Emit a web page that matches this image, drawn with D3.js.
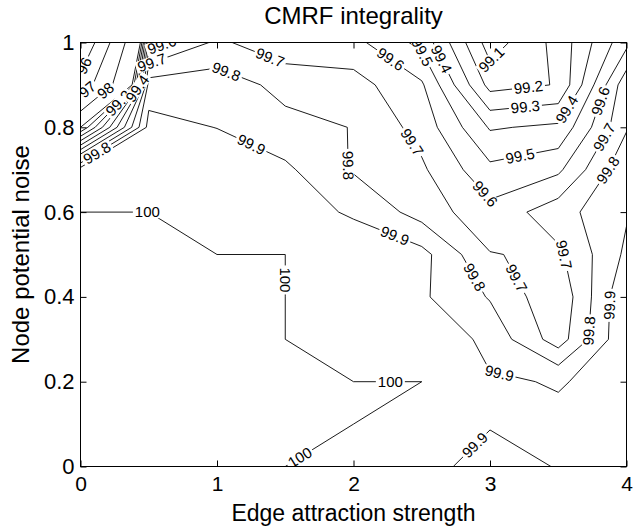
<!DOCTYPE html>
<html>
<head>
<meta charset="utf-8">
<script src="https://cdn.jsdelivr.net/npm/d3@7"></script>
<style>
  body { margin: 0; background: #fff; }
  text { font-family: "Liberation Sans", Arial, Helvetica, sans-serif; fill: #000; }
</style>
</head>
<body>
<div id="container"></div>
<script>
// grid of the experiment: edge attraction strength x node potential noise
const edgeStrength = [0, 0.5, 1, 1.5, 2, 2.5, 3, 3.5, 4];
const nodeNoise = [0, 0.1, 0.2, 0.3, 0.4, 0.5, 0.6, 0.7, 0.8, 0.9, 1];

// integrality (%) for each noise row, one value per edge strength
const noise00 = [100, 100, 100, 100, 99.97, 99.943, 99.85, 99.906, 99.93];
const noise01 = [100, 100, 100, 100, 100, 99.96, 99.908, 99.915, 99.93];
const noise02 = [100, 100, 100, 100, 100, 100, 99.91, 99.895, 99.926];
const noise03 = [100, 100, 100, 100, 99.98, 99.99, 99.87, 99.65, 99.99];
const noise04 = [100, 100, 100, 100, 99.96, 99.915, 99.792, 99.62, 99.99];
const noise05 = [100, 100, 100, 100, 99.95, 99.933, 99.705, 99.68, 99.92];
const noise06 = [100, 100, 99.97, 99.936, 99.89, 99.758, 99.632, 99.758, 99.89];
const noise07 = [99.95, 99.96, 99.97, 99.92, 99.79, 99.716, 99.525, 99.58, 99.88];
const noise08 = [99.0, 99.933, 99.898, 99.83, 99.797, 99.662, 99.39, 99.42, 99.79];
const noise09 = [96.37, 99.85, 99.853, 99.77, 99.74, 99.614, 99.165, 99.205, 99.77];
const noise10 = [95.05, 99.55, 99.72, 99.63, 99.63, 99.47, 99.05, 99.233, 99.57];
const integrality = [noise00, noise01, noise02, noise03, noise04, noise05,
                     noise06, noise07, noise08, noise09, noise10];

const levels = [95, 96, 97, 98, 99, 99.1, 99.2, 99.3, 99.4, 99.5, 99.6, 99.7, 99.8, 99.9, 100];
const xTicks = [0, 1, 2, 3, 4];
const yTicks = [0, 0.2, 0.4, 0.6, 0.8, 1];

// inline contour labels: level, edge strength, noise (rough spot on the line)
const labelLevel = [96, 97, 98, 99.8, 99.6, 99.7, 99.8, 99.7, 99.9, 99.8, 99.7, 99.6, 99.5, 99.4,
                    99.1, 99.2, 99.3, 99.4, 99.5, 99.6, 99.7, 99.8, 99.6, 99.7, 99.7, 99.8,
                    99.9, 99.9, 99.8, 99.9, 99.9, 100, 100, 100, 100, 99.2, 99.4];
const labelX = [0.06, 0.05, 0.2, 0.12, 0.6, 0.52, 1.07, 1.38, 1.26, 1.94, 2.43, 2.27, 2.49, 2.64,
                3.03, 3.28, 3.26, 3.55, 3.24, 3.79, 3.82, 3.86, 2.93, 3.55, 3.17, 2.85,
                2.29, 3.09, 3.72, 3.89, 2.89, 0.49, 1.5, 2.27, 1.61, 0.3, 0.38];
const labelY = [0.94, 0.89, 0.88, 0.74, 0.99, 0.955, 0.933, 0.957, 0.765, 0.71, 0.765, 0.96, 0.975, 0.96,
                0.953, 0.9, 0.845, 0.845, 0.7, 0.864, 0.78, 0.7, 0.633, 0.5, 0.44, 0.44,
                0.534, 0.25, 0.32, 0.38, 0.05, 0.593, 0.44, 0.2, 0.02, 0.85, 0.9];

const width = 640, height = 529;
const pLeft = 80.5, pRight = 626.5, pTop = 42.5, pBottom = 466.5;

const svg = d3.select("#container").append("svg")
  .attr("width", width)
  .attr("height", height);

const x = d3.scaleLinear().domain([0, 4]).range([pLeft, pRight]);
const y = d3.scaleLinear().domain([0, 1]).range([pBottom, pTop]);

// pad the grid by repeating its edges, so the rings d3 closes lie outside the axes
const nx = edgeStrength.length, ny = nodeNoise.length;
const W = nx + 2, H = ny + 2;
const values = new Array(W * H);
for (let j = 0; j < H; j++) {
  for (let i = 0; i < W; i++) {
    const jj = Math.min(ny - 1, Math.max(0, j - 1));
    const ii = Math.min(nx - 1, Math.max(0, i - 1));
    values[j * W + i] = integrality[jj][ii];
  }
}
const contours = d3.contours().size([W, H]).thresholds(levels)(values);

const ix = d3.scaleLinear().domain([0, nx - 1]).range([edgeStrength[0], edgeStrength[nx - 1]]);
const iy = d3.scaleLinear().domain([0, ny - 1]).range([nodeNoise[0], nodeNoise[ny - 1]]);
const toPx = (c) => [x(ix(c[0] - 1.5)), y(iy(c[1] - 1.5))];

svg.append("clipPath").attr("id", "plotclip")
  .append("rect")
  .attr("x", pLeft).attr("y", pTop)
  .attr("width", pRight - pLeft).attr("height", pBottom - pTop);

const rings = [];
contours.forEach(c => {
  c.coordinates.forEach(poly => poly.forEach(ring => {
    rings.push({ level: c.value, pts: ring.map(toPx) });
  }));
});

const lineGen = d3.line();
const plot = svg.append("g").attr("clip-path", "url(#plotclip)");
plot.selectAll("path.contour")
  .data(rings)
  .enter()
  .append("path")
  .attr("class", "contour")
  .attr("d", d => lineGen(d.pts))
  .attr("fill", "none")
  .attr("stroke", "#000")
  .attr("stroke-width", 0.9)
  .attr("stroke-linejoin", "round");

// contour labels, placed on the nearest piece of their line
const inside = (p) => p[0] >= pLeft && p[0] <= pRight && p[1] >= pTop && p[1] <= pBottom;
const labelG = plot.append("g");
labelLevel.forEach((lv, k) => {
  const ax = x(labelX[k]), ay = y(labelY[k]);
  let best = null;
  rings.filter(r => Math.abs(r.level - lv) < 1e-6).forEach(r => {
    for (let s = 0; s < r.pts.length - 1; s++) {
      const a = r.pts[s], b = r.pts[s + 1];
      if (!inside(a) || !inside(b)) continue;
      const dx = b[0] - a[0], dy = b[1] - a[1];
      const len2 = dx * dx + dy * dy;
      if (len2 < 1e-6) continue;
      let t = ((ax - a[0]) * dx + (ay - a[1]) * dy) / len2;
      t = Math.max(0, Math.min(1, t));
      const px = a[0] + t * dx, py = a[1] + t * dy;
      const d2 = (px - ax) * (px - ax) + (py - ay) * (py - ay);
      if (!best || d2 < best.d2) best = { d2, px, py, ang: Math.atan2(dy, dx) * 180 / Math.PI };
    }
  });
  if (!best) return;
  let ang = best.ang;
  if (ang > 90) ang -= 180;
  if (ang <= -90) ang += 180;
  const g = labelG.append("g")
    .attr("transform", `translate(${best.px},${best.py}) rotate(${ang})`);
  const rect = g.append("rect").attr("fill", "#fff");
  const t = g.append("text")
    .attr("text-anchor", "middle")
    .attr("dy", "0.35em")
    .style("font-size", "15px")
    .text(d3.format("")(lv));
  const w = t.node().getComputedTextLength() + 4;
  rect.attr("x", -w / 2).attr("y", -6).attr("width", w).attr("height", 12);
});

// axes box with inward ticks on all sides
svg.append("g")
  .attr("transform", `translate(0,${pBottom})`)
  .call(d3.axisBottom(x).tickValues(xTicks).tickFormat(d3.format("")).tickSizeInner(-6).tickSizeOuter(0).tickPadding(10))
  .call(g => g.select(".domain").remove())
  .selectAll("text").style("font-size", "21px");

svg.append("g")
  .attr("transform", `translate(0,${pTop})`)
  .call(d3.axisTop(x).tickValues(xTicks).tickFormat("").tickSizeInner(-6).tickSizeOuter(0))
  .call(g => g.select(".domain").remove());

svg.append("g")
  .attr("transform", `translate(${pLeft},0)`)
  .call(d3.axisLeft(y).tickValues(yTicks).tickFormat(d3.format("")).tickSizeInner(-6).tickSizeOuter(0).tickPadding(6))
  .call(g => g.select(".domain").remove())
  .selectAll("text").style("font-size", "22px");

svg.append("g")
  .attr("transform", `translate(${pRight},0)`)
  .call(d3.axisRight(y).tickValues(yTicks).tickFormat("").tickSizeInner(-6).tickSizeOuter(0))
  .call(g => g.select(".domain").remove());

svg.append("rect")
  .attr("x", pLeft).attr("y", pTop)
  .attr("width", pRight - pLeft).attr("height", pBottom - pTop)
  .attr("fill", "none")
  .attr("stroke", "#000")
  .attr("stroke-width", 1);

svg.append("text")
  .attr("x", (pLeft + pRight) / 2)
  .attr("y", 24)
  .attr("text-anchor", "middle")
  .style("font-size", "24px")
  .text("CMRF integrality");

svg.append("text")
  .attr("x", (pLeft + pRight) / 2)
  .attr("y", 521)
  .attr("text-anchor", "middle")
  .style("font-size", "23px")
  .text("Edge attraction strength");

svg.append("text")
  .attr("transform", `translate(29,${(pTop + pBottom) / 2}) rotate(-90)`)
  .attr("text-anchor", "middle")
  .style("font-size", "24px")
  .text("Node potential noise");
</script>
</body>
</html>
